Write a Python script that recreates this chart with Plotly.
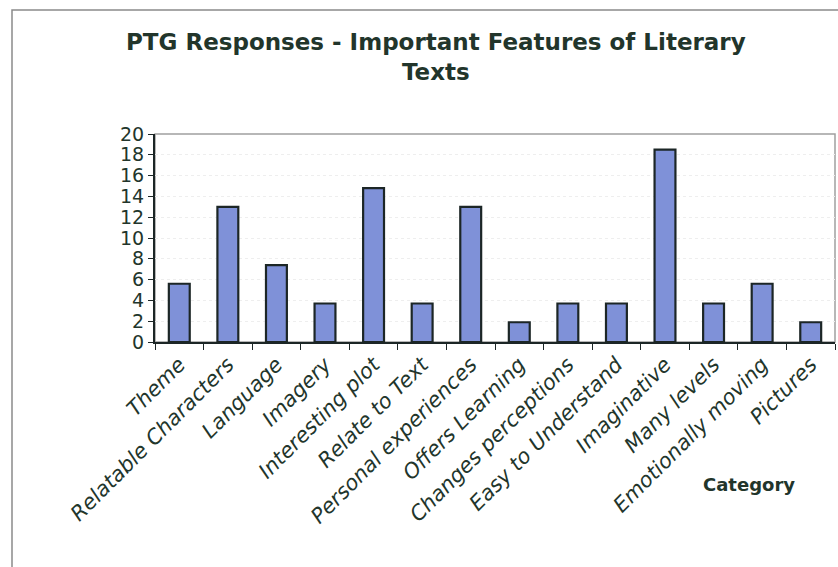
import plotly.graph_objects as go

categories = ["Theme", "Relatable Characters", "Language", "Imagery", "Interesting plot",
              "Relate to Text", "Personal experiences", "Offers Learning", "Changes perceptions",
              "Easy to Understand", "Imaginative", "Many levels", "Emotionally moving", "Pictures"]
values = [5.6, 13.0, 7.4, 3.7, 14.8, 3.7, 13.0, 1.9, 3.7, 3.7, 18.5, 3.7, 5.6, 1.9]
y_ticks = list(range(0, 21, 2))

W, H = 838, 567
L, R, T, B = 155, 3, 134, 225
pw, ph = W - L - R, H - T - B

txt = "#22352b"
fig = go.Figure(go.Bar(
    x=categories, y=values,
    marker=dict(color="#7f91d8", line=dict(color="#1c2626", width=2.2)),
))

def px_x(x):
    return (x - L) / pw

def px_y(y):
    return (H - B - y) / ph

fig.update_layout(
    width=W, height=H,
    margin=dict(l=L, r=R, t=T, b=B),
    paper_bgcolor="white", plot_bgcolor="white",
    bargap=0.57,
    showlegend=False,
    font=dict(family="DejaVu Sans", color=txt),
    shapes=[
        dict(type="rect", xref="paper", yref="paper",
             x0=px_x(12), x1=px_x(845), y0=px_y(580), y1=px_y(10),
             line=dict(color="#8a8a8a", width=1.5), layer="below"),
        dict(type="rect", xref="paper", yref="paper",
             x0=0, x1=1, y0=0, y1=1,
             line=dict(color="#a0a0a0", width=1.5), layer="below"),
    ],
    annotations=[
        dict(text="<b>PTG Responses - Important Features of Literary<br>Texts</b>",
             xref="paper", yref="paper", x=px_x(436), y=px_y(27),
             xanchor="center", yanchor="top", showarrow=False,
             font=dict(family="DejaVu Sans", size=23, color=txt)),
        dict(text="<b>Category</b>", xref="paper", yref="paper",
             x=px_x(749), y=px_y(484), xanchor="center", yanchor="middle",
             showarrow=False,
             font=dict(family="DejaVu Sans", size=18, color=txt)),
    ],
)
fig.update_xaxes(
    tickangle=-45, tickson="boundaries", ticks="outside", ticklen=6,
    tickcolor="#1c2626", showline=True, linecolor="#1c2626", linewidth=2,
    tickfont=dict(family="DejaVu Sans", size=21, color=txt, style="italic"),
    showgrid=False,
)
fig.update_yaxes(
    range=[0, 20], tickvals=y_ticks, ticks="outside", ticklen=5,
    tickcolor="#1c2626", showline=True, linecolor="#1c2626", linewidth=2,
    tickfont=dict(family="DejaVu Sans", size=19, color=txt),
    showgrid=True, gridcolor="#eeeeee", griddash="dot", gridwidth=1,
    zeroline=False,
)
fig.write_html("out.html")
